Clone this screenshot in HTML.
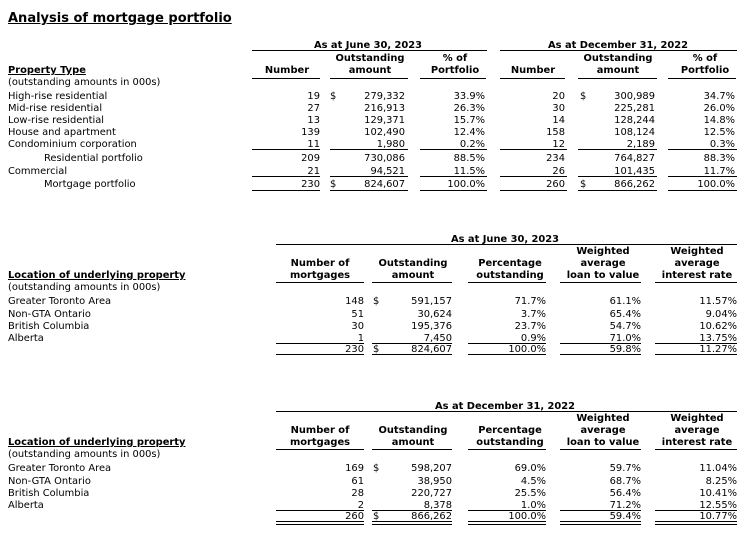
<!DOCTYPE html>
<html><head><meta charset="utf-8"><style>
html,body{margin:0;padding:0;background:#fff;}
#root{position:relative;width:751px;height:540px;overflow:hidden;font-family:"DejaVu Sans","Liberation Sans",sans-serif;font-size:9.9px;color:#000;}
.t{position:absolute;height:12px;line-height:12px;white-space:nowrap;}
.b{font-weight:bold;}
.u{text-decoration:underline;}
.ln{position:absolute;height:1px;background:#000;}
</style></head><body>
<div id="root"></div>
<script>
// Table 1 data
const propTypes = ["High-rise residential","Mid-rise residential","Low-rise residential","House and apartment","Condominium corporation","Residential portfolio","Commercial","Mortgage portfolio"];
const junNum = ["19","27","13","139","11","209","21","230"];
const junAmt = ["279,332","216,913","129,371","102,490","1,980","730,086","94,521","824,607"];
const junPct = ["33.9%","26.3%","15.7%","12.4%","0.2%","88.5%","11.5%","100.0%"];
const decNum = ["20","30","14","158","12","234","26","260"];
const decAmt = ["300,989","225,281","128,244","108,124","2,189","764,827","101,435","866,262"];
const decPct = ["34.7%","26.0%","14.8%","12.5%","0.3%","88.3%","11.7%","100.0%"];
// Table 2/3 data
const locations = ["Greater Toronto Area","Non-GTA Ontario","British Columbia","Alberta",""];
const t2Num = ["148","51","30","1","230"];
const t2Amt = ["591,157","30,624","195,376","7,450","824,607"];
const t2Pct = ["71.7%","3.7%","23.7%","0.9%","100.0%"];
const t2Ltv = ["61.1%","65.4%","54.7%","71.0%","59.8%"];
const t2Rate = ["11.57%","9.04%","10.62%","13.75%","11.27%"];
const t3Num = ["169","61","28","2","260"];
const t3Amt = ["598,207","38,950","220,727","8,378","866,262"];
const t3Pct = ["69.0%","4.5%","25.5%","1.0%","100.0%"];
const t3Ltv = ["59.7%","68.7%","56.4%","71.2%","59.4%"];
const t3Rate = ["11.04%","8.25%","10.41%","12.55%","10.77%"];

const root=document.getElementById('root');
// y = top of capital/digit glyphs
function t(x,y,txt,align,cls,name){
  const d=document.createElement('div');
  d.className='t '+(cls||'');
  d.textContent=txt;
  d.style.top=(y-2)+'px';
  if(align==='r'){d.style.right=(751-x)+'px';}
  else if(align==='c'){d.style.left=x+'px';d.style.transform='translateX(-50%)';}
  else d.style.left=x+'px';
  
  
  root.appendChild(d);return d;
}
function ln(x1,x2,y,name){
  const d=document.createElement('div');
  d.className='ln';
  d.style.left=x1+'px';d.style.width=(x2-x1)+'px';d.style.top=y+'px';
  
  
  root.appendChild(d);
}
const title=t(8,19,"Analysis of mortgage portfolio",'l','b u','page-title');
title.style.fontSize='13px';title.style.height='16px';title.style.lineHeight='16px';title.style.top='11px';

// Table 1 headers
t(368,42,"As at June 30, 2023",'c','b','june-2023-header');
ln(252,487,50,'june-header-rule');
t(618,42,"As at December 31, 2022",'c','b','dec-2022-header');
ln(500,737,50,'dec-header-rule');
t(8,67,"Property Type",'l','b u','property-type-header');
t(8,79,"(outstanding amounts in 000s)",'l','','amounts-note');
[[287,370,455],[533,618,705]].forEach((c,i)=>{
  t(c[0],67,"Number",'c','b','number-header');
  t(c[1],55,"Outstanding",'c','b','outstanding-header');
  t(c[1],67,"amount",'c','b','amount-header');
  t(c[2],55,"% of",'c','b','pct-header');
  t(c[2],67,"Portfolio",'c','b','portfolio-header');
});
ln(252,320,78,'rule');ln(330,408,78,'rule');ln(420,486,78,'rule');
ln(500,565,78,'rule');ln(578,657,78,'rule');ln(668,736,78,'rule');
const r1Y=[93,105,117,129,141,155,168,181];
propTypes.forEach((p,i)=>{
  const y=r1Y[i];
  const ind=(i===5||i===7)?44:8;
  t(ind,y,p,'l','','row-label');
  t(320,y,junNum[i],'r','','june-number');
  t(405,y,junAmt[i],'r','','june-amount');
  t(485,y,junPct[i],'r','','june-pct');
  t(565,y,decNum[i],'r','','dec-number');
  t(655,y,decAmt[i],'r','','dec-amount');
  t(735,y,decPct[i],'r','','dec-pct');
  if(i===0||i===7){t(330,y,"$",'l','','dollar');t(580,y,"$",'l','','dollar');}
});
[149,176,190].forEach(y=>{
  ln(252,320,y,'sum-rule');ln(330,408,y,'sum-rule');ln(420,487,y,'sum-rule');
  ln(500,567,y,'sum-rule');ln(578,657,y,'sum-rule');ln(668,737,y,'sum-rule');
});

function locTable(off,hdr,num,amt,pct,ltv,rate,dbl){
  t(505,236+off,hdr,'c','b','location-table-header');
  ln(276,737,244+off,'header-rule');
  t(8,272+off,"Location of underlying property",'l','b u','location-header');
  t(8,284+off,"(outstanding amounts in 000s)",'l','','amounts-note');
  t(320,260+off,"Number of",'c','b','col-header');t(320,272+off,"mortgages",'c','b','col-header');
  t(413,260+off,"Outstanding",'c','b','col-header');t(413,272+off,"amount",'c','b','col-header');
  t(510,260+off,"Percentage",'c','b','col-header');t(510,272+off,"outstanding",'c','b','col-header');
  t(603,248+off,"Weighted",'c','b','col-header');t(603,260+off,"average",'c','b','col-header');t(603,272+off,"loan to value",'c','b','col-header');
  t(697,248+off,"Weighted",'c','b','col-header');t(697,260+off,"average",'c','b','col-header');t(697,272+off,"interest rate",'c','b','col-header');
  const cols=[[276,364],[372,452],[468,546],[560,641],[655,737]];
  cols.forEach(c=>ln(c[0],c[1],282+off,'col-rule'));
  const rY=[298,311,323,335,346];
  locations.forEach((l,i)=>{
    const y=rY[i]+off;
    if(l) t(8,y,l,'l','','location-label');
    t(364,y,num[i],'r','','mortgage-count');
    t(452,y,amt[i],'r','','outstanding-amount');
    t(546,y,pct[i],'r','','pct-outstanding');
    t(641,y,ltv[i],'r','','loan-to-value');
    t(737,y,rate[i],'r','','interest-rate');
    if(i===0||i===4) t(373,y,"$",'l','','dollar');
  });
  cols.forEach(c=>{ln(c[0],c[1],343+off,'sum-rule');ln(c[0],c[1],354+off,'total-rule');if(dbl)ln(c[0],c[1],357+off,'total-rule');});
}
locTable(0,"As at June 30, 2023",t2Num,t2Amt,t2Pct,t2Ltv,t2Rate,false);
locTable(167,"As at December 31, 2022",t3Num,t3Amt,t3Pct,t3Ltv,t3Rate,true);
</script>
</body></html>
